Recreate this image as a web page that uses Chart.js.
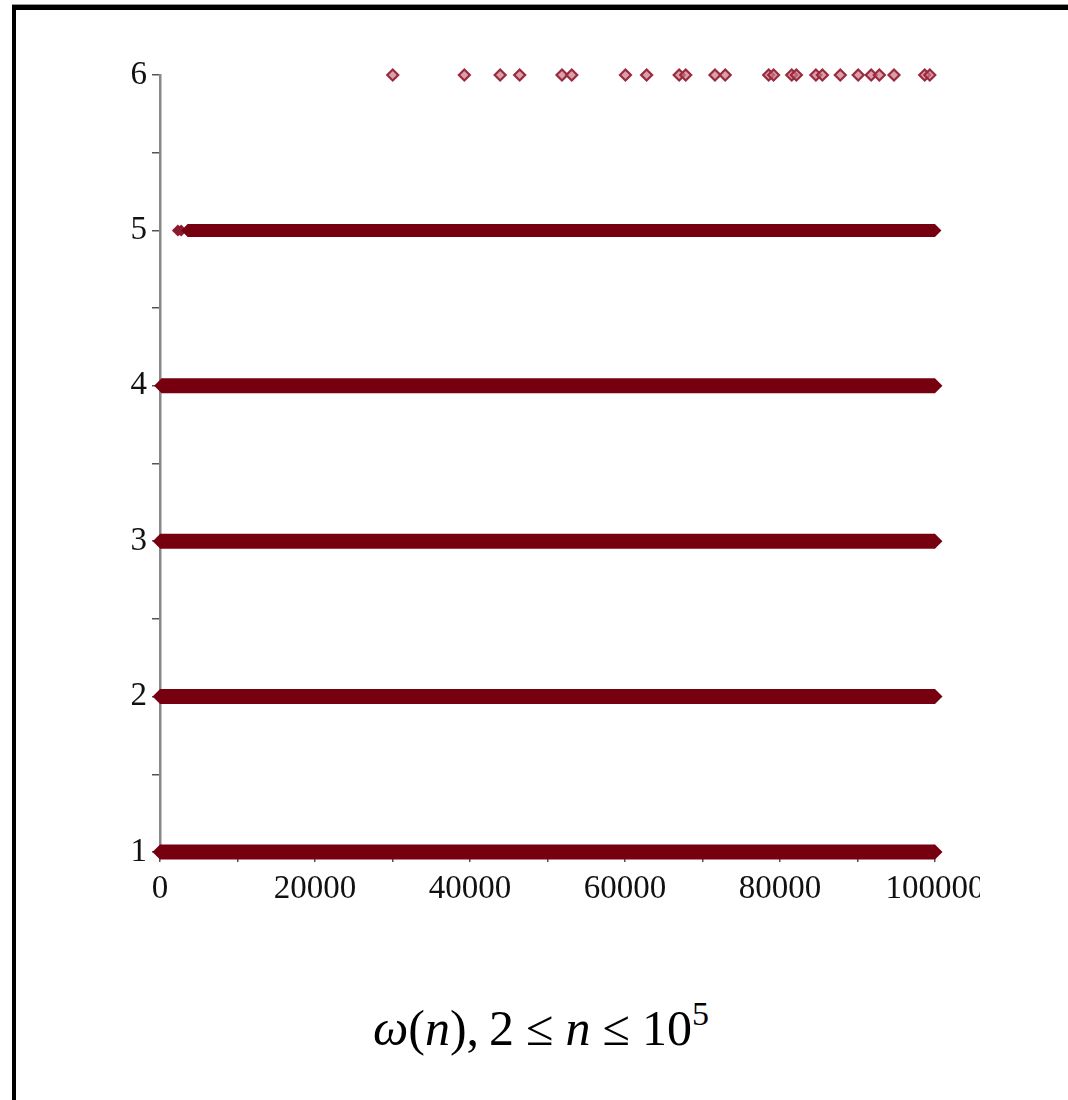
<!DOCTYPE html>
<html>
<head>
<meta charset="utf-8">
<script src="https://cdn.jsdelivr.net/npm/chart.js@4.4.1/dist/chart.umd.min.js"></script>
<style>
  html, body { margin: 0; padding: 0; background: #fff; }
  body { width: 1068px; height: 1100px; position: relative; overflow: hidden; }
  #frame {
    position: absolute; left: 12px; top: 4px; width: 1100px; height: 1200px;
    border-top: 1px solid #999;
  }
  #frame::before {
    content: ""; position: absolute; left: 0; top: 0; right: 0; height: 5px; background: #000;
  }
  #frame::after {
    content: ""; position: absolute; left: 0; top: 0; bottom: 0; width: 4px; background: #000;
  }
  #plot { position: absolute; left: 0; top: 0; }
  #caption {
    position: absolute; left: 0; width: 1082px; top: 996px; text-align: center;
    font-family: "Liberation Serif", "DejaVu Serif", serif; font-size: 50px; line-height: 64px;
    color: #000; white-space: nowrap;
  }
  #caption i { font-style: italic; }
  #caption .rel { margin: 0 0.24em; }
  #caption sup { font-size: 0.68em; vertical-align: 0; position: relative; top: -0.6em; }
</style>
</head>
<body>
<div id="frame"></div>
<canvas id="plot" width="980" height="960"></canvas>
<div id="caption"><i>ω</i>(<i>n</i>),&#8201;2<span class="rel">≤</span><i>n</i><span class="rel">≤</span>10<sup>5</sup></div>
<script>
// Values of ω(n) that appear as continuous runs of points
const runLevels = [1, 2, 3, 4, 5];
const runStarts = [2, 6, 30, 210, 3570];
const runEnds   = [99997, 100000, 99990, 99990, 99990];

// Isolated points with ω(n) = 5 before the run begins
const sparse5 = [2310, 2730];

// n ≤ 100000 with ω(n) = 6
const omega6 = [30030, 39270, 43890, 46410, 51870, 53130, 60060, 62790, 66990, 67830,
                71610, 72930, 78540, 79170, 81510, 82110, 84630, 85470, 87780, 90090,
                91770, 92820, 94710, 98670, 99330];

// Axis ticks
const xTickStep = 10000;
const xLabelStep = 20000;
const yTickStep = 0.5;

const maroon = '#760010';
const serif = '"Liberation Serif", "Times New Roman", serif';

const datasets = runLevels.map((lvl, i) => ({
  type: 'line',
  data: [{ x: runStarts[i], y: lvl }, { x: runEnds[i], y: lvl }],
  borderColor: maroon,
  borderWidth: lvl === 5 ? 13 : 15,
  borderCapStyle: 'butt',
  pointStyle: 'rectRot',
  pointRadius: lvl === 5 ? 6.5 : 7.5,
  pointBackgroundColor: maroon,
  pointBorderWidth: 0,
  clip: false
}));

datasets.push({
  type: 'scatter',
  data: sparse5.map(v => ({ x: v, y: 5 })),
  pointStyle: 'rectRot',
  pointRadius: 6,
  pointBackgroundColor: '#8a1a2c',
  pointBorderWidth: 0,
  clip: false
});

datasets.push({
  type: 'scatter',
  data: omega6.map(v => ({ x: v, y: 6 })),
  pointStyle: 'rectRot',
  pointRadius: 5.5,
  pointBorderColor: '#9a2a3e',
  pointBorderWidth: 2.2,
  pointBackgroundColor: 'rgba(200,120,135,0.7)',
  clip: false
});

new Chart(document.getElementById('plot'), {
  data: { datasets },
  options: {
    responsive: false,
    animation: false,
    events: [],
    layout: { padding: { left: 0, right: 45, top: 75, bottom: 0 } },
    plugins: { legend: { display: false }, tooltip: { enabled: false }, title: { display: false } },
    scales: {
      x: {
        type: 'linear',
        min: 0, max: 100000,
        afterFit(s) { s.height = 108; s.paddingLeft = 0; s.paddingRight = 0; },
        border: { display: true, color: '#888', width: 2 },
        grid: { drawOnChartArea: false, drawTicks: true, tickLength: 10, color: '#555', lineWidth: 1.5 },
        ticks: {
          stepSize: xTickStep, autoSkip: false, maxRotation: 0, padding: 8,
          color: '#111', font: { family: serif, size: 33 },
          callback: v => (v % xLabelStep === 0 ? String(v) : '')
        }
      },
      y: {
        type: 'linear',
        min: 1, max: 6,
        afterFit(s) { s.width = 160; },
        border: { display: true, color: '#888', width: 2.5 },
        grid: { drawOnChartArea: false, drawTicks: true, tickLength: 8, color: '#555', lineWidth: 1.5 },
        ticks: {
          stepSize: yTickStep, autoSkip: false, padding: 5,
          color: '#111', font: { family: serif, size: 33 },
          callback: v => (Number.isInteger(v) ? String(v) : '')
        }
      }
    }
  }
});
</script>
</body>
</html>
